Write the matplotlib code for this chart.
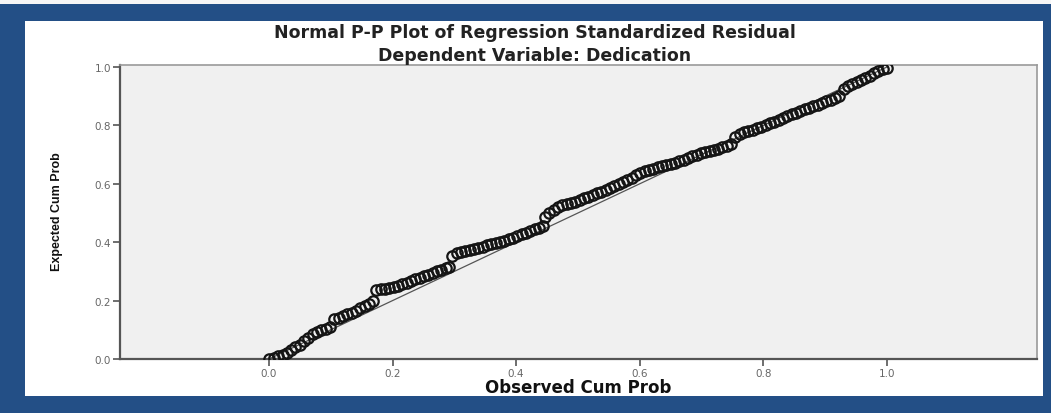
"""Normal P-P plot of regression standardized residual (SPSS style)."""

import matplotlib

matplotlib.use("Agg")
import matplotlib.pyplot as plt
from matplotlib.patches import Rectangle

# observed vs expected cumulative probabilities
observed = [
    0.000, 0.008, 0.015, 0.022, 0.029, 0.036, 0.043, 0.050, 0.057, 0.064,
    0.071, 0.078, 0.085, 0.092, 0.099,
    0.106, 0.113, 0.120, 0.127, 0.134, 0.141, 0.148, 0.155, 0.162, 0.168,
    0.174, 0.181, 0.188, 0.195, 0.202, 0.209, 0.216, 0.223, 0.230, 0.237,
    0.244, 0.251, 0.258, 0.265, 0.272, 0.279, 0.286, 0.292,
    0.297, 0.304, 0.311, 0.318, 0.325, 0.332, 0.339, 0.346, 0.353, 0.360,
    0.367, 0.374, 0.381, 0.388, 0.395, 0.402, 0.409, 0.416, 0.423, 0.430,
    0.437, 0.443,
    0.447, 0.454, 0.461, 0.468, 0.475, 0.482, 0.489, 0.496, 0.503, 0.510,
    0.517, 0.524, 0.531, 0.538, 0.545, 0.552, 0.559, 0.566, 0.573, 0.580,
    0.587, 0.594, 0.601, 0.608, 0.615, 0.622, 0.629, 0.636, 0.643, 0.650,
    0.657, 0.664, 0.671, 0.678, 0.685, 0.692, 0.699, 0.706, 0.713, 0.720,
    0.727, 0.734, 0.741, 0.748,
    0.755, 0.762, 0.769, 0.776, 0.783, 0.790, 0.797, 0.804, 0.811, 0.818,
    0.825, 0.832, 0.839, 0.846, 0.853, 0.860, 0.867, 0.874, 0.881, 0.888,
    0.895, 0.902, 0.909, 0.916, 0.923,
    0.930, 0.937, 0.944, 0.951, 0.958, 0.965, 0.972, 0.979, 0.986, 0.993,
    1.000,
]
expected = [
    0.000, 0.004, 0.009, 0.015, 0.022, 0.030, 0.040, 0.049, 0.060, 0.072,
    0.084, 0.092, 0.098, 0.104, 0.110,
    0.138, 0.142, 0.147, 0.153, 0.159, 0.166, 0.174, 0.182, 0.190, 0.198,
    0.236, 0.239, 0.241, 0.243, 0.246, 0.250, 0.256, 0.262, 0.268, 0.273,
    0.278, 0.283, 0.288, 0.294, 0.300, 0.306, 0.311, 0.316,
    0.352, 0.362, 0.368, 0.371, 0.374, 0.377, 0.381, 0.385, 0.389, 0.393,
    0.397, 0.401, 0.405, 0.410, 0.415, 0.421, 0.427, 0.433, 0.439, 0.444,
    0.450, 0.455,
    0.485, 0.500, 0.512, 0.520, 0.526, 0.530, 0.534, 0.539, 0.544, 0.550,
    0.556, 0.561, 0.567, 0.573, 0.580, 0.587, 0.594, 0.600, 0.606, 0.612,
    0.620, 0.630, 0.638, 0.644, 0.648, 0.652, 0.656, 0.660, 0.663, 0.667,
    0.672, 0.677, 0.683, 0.689, 0.695, 0.700, 0.704, 0.708, 0.712, 0.716,
    0.720, 0.725, 0.731, 0.738,
    0.762, 0.772, 0.776, 0.780, 0.785, 0.790, 0.795, 0.801, 0.807, 0.813,
    0.820, 0.826, 0.832, 0.838, 0.844, 0.850, 0.856, 0.861, 0.866, 0.871,
    0.876, 0.882, 0.888, 0.894, 0.900,
    0.925, 0.935, 0.942, 0.950, 0.957, 0.964, 0.971, 0.978, 0.985, 0.992,
    0.997,
]
diag = [0.0, 1.0]
ticks = [0.0, 0.2, 0.4, 0.6, 0.8, 1.0]
tick_labels = ["0.0", "0.2", "0.4", "0.6", "0.8", "1.0"]

FRAME = "#234f86"
W, H = 1051, 414

fig = plt.figure(figsize=(W / 100, H / 100), dpi=100)
fig.patch.set_facecolor(FRAME)
# white panel inside blue frame, plus thin light strip on top
fig.add_artist(Rectangle((25 / W, 1 - 397 / H), (1043 - 25) / W, (397 - 22) / H,
                         transform=fig.transFigure, facecolor="white",
                         edgecolor="none", zorder=-10))
fig.add_artist(Rectangle((0, 1 - 5 / H), 1, 5 / H,
                         transform=fig.transFigure, facecolor="#f6f6f6",
                         edgecolor="none", zorder=-10))

ax = fig.add_axes([120 / W, 1 - 360 / H, (1037 - 120) / W, (360 - 66) / H])
ax.set_facecolor("#f0f0f0")
ax.plot(diag, diag, color="#555555", lw=0.9, zorder=2)
ax.plot(observed, expected, ls="none", marker="o", ms=7.5, mfc="none",
        mec="#151515", mew=1.6, zorder=3)

ax.set_xlim(-0.241, 1.243)
ax.set_ylim(0.0, 1.007)
ax.set_xticks(ticks, tick_labels)
ax.set_yticks(ticks, tick_labels)
for lab in ax.get_xticklabels() + ax.get_yticklabels():
    lab.set_fontfamily("DejaVu Sans")
    lab.set_fontsize(7.5)
    lab.set_color("#666666")
ax.tick_params(axis="both", length=5, width=1.2, color="#555555", pad=1.5)
for side in ("left", "bottom"):
    ax.spines[side].set_color("#555555")
    ax.spines[side].set_linewidth(1.6)
for side in ("top", "right"):
    ax.spines[side].set_color("#9a9a9a")
    ax.spines[side].set_linewidth(1.2)

fig.text(535 / W, 1 - 33 / H, "Normal P-P Plot of Regression Standardized Residual",
         ha="center", va="center", fontsize=12.5, fontweight="bold",
         family="DejaVu Sans", color="#222222")
fig.text(535 / W, 1 - 56 / H, "Dependent Variable: Dedication",
         ha="center", va="center", fontsize=12.5, fontweight="bold",
         family="DejaVu Sans", color="#222222")
fig.text(578 / W, 1 - 388 / H, "Observed Cum Prob", ha="center", va="center",
         fontsize=12, fontweight="bold", family="DejaVu Sans", color="#111111")
fig.text(57 / W, 1 - 212 / H, "Expected Cum Prob", ha="center", va="center",
         rotation=90, fontsize=9, fontweight="bold",
         family=["Liberation Sans Narrow", "Liberation Sans"], color="#111111")

fig.savefig("out.png", dpi=100, facecolor=FRAME)
